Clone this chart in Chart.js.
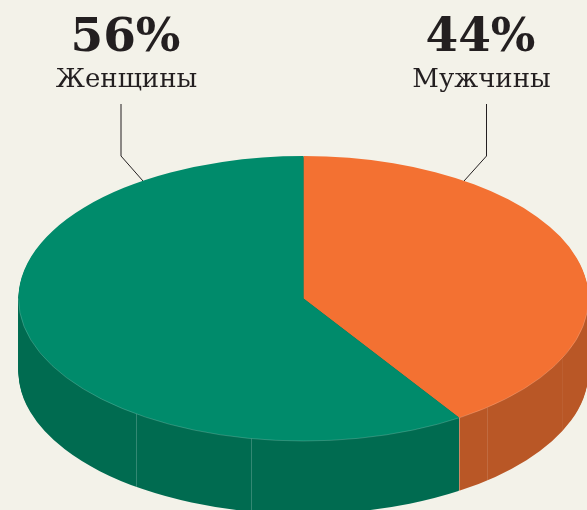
<!DOCTYPE html>
<html>
<head>
<meta charset="utf-8">
<style>
  html, body { margin: 0; padding: 0; background: #f3f2e9; }
  canvas { display: block; }
</style>
<script src="https://cdn.jsdelivr.net/npm/chart.js@4"></script>
</head>
<body>
<canvas id="chart-area" width="587" height="510"></canvas>
<script>
var categories = ['Мужчины', 'Женщины'];
var percentLabels = ['44%', '56%'];
// the printed slices are a bit off the captions: the boundary sits at about 147 degrees
var sliceShares = [40.8, 59.2];
var topColors = ['#f37132', '#008b6b'];
var sideColors = ['#b95726', '#006b50'];
// faint seams on the side wall, degrees clockwise from the top
var seamAngles = [115, 140, 147, 190.6, 216];
var seamAlphas = [0.05, 0.12, 0.3, 0.2, 0.2];

var pie3d = { cx: 303.5, cy: 298.5, rx: 285, ry: 142.5, depth: 73 };
var captions = [
  { x: 481, leaderX: 486.5, leaderEndX: 464 },
  { x: 126, leaderX: 121, leaderEndX: 143 }
];

function squash(ctx, arc) {
  ctx.translate(pie3d.cx, pie3d.cy);
  ctx.scale(pie3d.rx / arc.outerRadius, pie3d.ry / arc.outerRadius);
  ctx.translate(-arc.x, -arc.y);
}

var pieDepthPlugin = {
  id: 'pieDepth',
  beforeDatasetsDraw: function(chart) {
    var ctx = chart.ctx;
    var arcs = chart.getDatasetMeta(0).data;

    // side wall: the same arcs stacked downwards in a darker colour
    for (var d = pie3d.depth; d >= 1; d--) {
      arcs.forEach(function(arc, i) {
        var keep = arc.options;
        arc.options = Object.assign({}, keep, { backgroundColor: sideColors[i], borderWidth: 0 });
        ctx.save();
        ctx.translate(0, d);
        squash(ctx, arc);
        arc.draw(ctx);
        ctx.restore();
        arc.options = keep;
      });
    }

    // flatten rounding stripes left by the stacked edges
    var split = Math.round(pie3d.cx + pie3d.rx * Math.sin(arcs[0].circumference));
    ctx.save();
    ctx.globalCompositeOperation = 'source-atop';
    ctx.fillStyle = sideColors[1];
    ctx.fillRect(0, pie3d.cy, split, chart.height);
    ctx.fillStyle = sideColors[0];
    ctx.fillRect(split, pie3d.cy, chart.width - split, chart.height);
    ctx.restore();

    ctx.save();
    ctx.lineWidth = 1;
    seamAngles.forEach(function(deg, i) {
      var a = deg * Math.PI / 180;
      var x = Math.round(pie3d.cx + pie3d.rx * Math.sin(a)) + 0.5;
      var y = pie3d.cy - pie3d.ry * Math.cos(a);
      ctx.strokeStyle = 'rgba(255,255,255,' + seamAlphas[i] + ')';
      ctx.beginPath();
      ctx.moveTo(x, y);
      ctx.lineTo(x, y + pie3d.depth);
      ctx.stroke();
    });

    // leader lines go under the pie
    ctx.strokeStyle = '#231f20';
    captions.forEach(function(c) {
      ctx.beginPath();
      ctx.moveTo(c.leaderX, 104);
      ctx.lineTo(c.leaderX, 156);
      ctx.lineTo(c.leaderEndX, 181);
      ctx.stroke();
    });
    ctx.restore();

    // the real slices are drawn by the library inside this transform
    ctx.save();
    squash(ctx, arcs[0]);
  },
  afterDatasetsDraw: function(chart) {
    var ctx = chart.ctx;
    ctx.restore();

    // light hairline along the front rim
    ctx.save();
    ctx.strokeStyle = 'rgba(255,255,255,0.3)';
    ctx.lineWidth = 0.6;
    ctx.beginPath();
    ctx.ellipse(pie3d.cx, pie3d.cy, pie3d.rx, pie3d.ry, 0, 0, Math.PI);
    ctx.stroke();
    ctx.restore();

    ctx.save();
    ctx.fillStyle = '#231f20';
    ctx.textAlign = 'center';
    ctx.textBaseline = 'alphabetic';
    captions.forEach(function(c, i) {
      ctx.font = 'bold 47px "DejaVu Serif"';
      ctx.fillText(percentLabels[i], c.x - 0.5, 51);
      ctx.font = '26px "DejaVu Serif"';
      ctx.fillText(categories[i], c.x + 0.5, 87);
    });
    ctx.restore();
  }
};

var config = {
  type: 'pie',
  data: {
    labels: categories,
    datasets: [{
      data: sliceShares,
      backgroundColor: topColors,
      borderWidth: 0,
      clip: false
    }]
  },
  options: {
    responsive: false,
    animation: false,
    plugins: {
      legend: { display: false },
      tooltip: { enabled: false }
    }
  },
  plugins: [pieDepthPlugin]
};

window.onload = function() {
  var ctx = document.getElementById('chart-area').getContext('2d');
  window.myPie = new Chart(ctx, config);
};
</script>
</body>
</html>
